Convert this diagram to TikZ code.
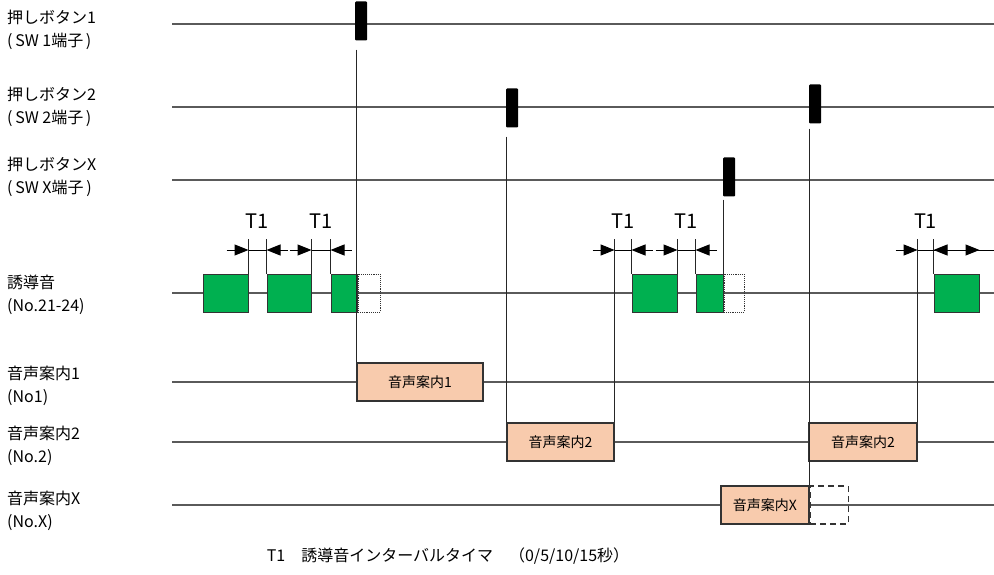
\documentclass[tikz,border=0pt]{standalone}
\usepackage{fontspec}
\setmainfont{Noto Sans CJK JP}
\usetikzlibrary{arrows.meta,calc}

\definecolor{tonegreen}{RGB}{0,176,80}
\definecolor{voicepeach}{RGB}{248,203,173}
\definecolor{linegray}{RGB}{90,90,90}

\begin{document}
\begin{tikzpicture}[x=1pt,y=-1pt]
\tikzstyle{lbl}=[anchor=west, align=left, inner sep=0pt, font=\fontsize{16}{23}\selectfont]
\tikzstyle{pulse}=[fill=black, inner sep=0pt, minimum width=12pt, minimum height=39pt, rounded corners=1pt]
\tikzstyle{tone}=[draw=black!80, fill=tonegreen, line width=1pt, inner sep=0pt, minimum height=38pt]
\tikzstyle{toneoff}=[draw=black!80, densely dotted, line width=0.9pt, inner sep=0pt, minimum height=38pt]
\tikzstyle{voice}=[draw=black!80, fill=voicepeach, line width=1.2pt, inner sep=0pt,
                        minimum height=38pt, font=\fontsize{14}{14}\selectfont]
\tikzstyle{voiceoff}=[draw=black!80, dash pattern=on 6pt off 4pt, line width=1.2pt, inner sep=0pt, minimum height=38pt]
\tikzstyle{tl}=[linegray, line width=1.4pt]
\tikzstyle{vl}=[black!85, line width=1.2pt]
\tikzstyle{dl}=[black, line width=1pt]
\tikzstyle{arw}=[black, line width=1pt, -{Triangle[length=14pt,width=11pt]}]
\tikzstyle{t1}=[inner sep=0pt, font=\fontsize{20}{20}\selectfont]
\useasboundingbox (0,0) rectangle (994,575);

% signal names
	\node[lbl] (sw1) at (7,30){押しボタン1\\(\,SW 1端子\,)};
	\node[lbl] (sw2) at (7,107){押しボタン2\\(\,SW 2端子\,)};
	\node[lbl] (swx) at (7,177){押しボタンX\\(\,SW X端子\,)};
	\node[lbl] (tone) at (7,295){誘導音\\(No.21-24)};
	\node[lbl] (vo1) at (7,386){音声案内1\\(No1)};
	\node[lbl] (vo2) at (7,446){音声案内2\\(No.2)};
	\node[lbl] (vox) at (7,511){音声案内X\\(No.X)};

% time lines
\coordinate (rt) at (994,0);
\coordinate (ktop) at (0,239);
\coordinate (ky) at (0,250);
\foreach \n/\y in {s1/24, s2/107, sx/180, tn/293, v1/382, v2/442, vx/505}{
	\coordinate (\n) at (172,\y);
	\draw[tl] (\n)--(\n -| rt);
}

% switch pulses
	\node[pulse] (p1) at (361,21){};
	\node[pulse] (p2) at (512,108){};
	\node[pulse] (px) at (729,177){};
	\node[pulse] (p2b) at (815,104){};

% guide tone
	\node[tone, minimum width=45pt] (g1) at (225.5,293){};
	\node[tone, minimum width=44pt] (g2) at (289,293){};
	\node[tone, minimum width=26pt] (g3) at (344,293){};
	\node[toneoff, minimum width=22pt, anchor=west] (d3) at (g3.east){};
	\node[tone, minimum width=45pt] (g4) at (654.5,293){};
	\node[tone, minimum width=27pt] (g5) at (709.5,293){};
	\node[toneoff, minimum width=20pt, anchor=west] (d5) at (g5.east){};
	\node[tone, minimum width=45pt] (g6) at (956.5,293){};

% voice guidance
	\node[voice, minimum width=126pt] (a1) at (420,382){音声案内1};
	\node[voice, minimum width=107pt] (b1) at (560.5,442){音声案内2};
	\node[voice, minimum width=108pt] (b2) at (863,442){音声案内2};
	\node[voice, minimum width=88pt] (x1) at (765,505){音声案内X};
	\node[voiceoff, minimum width=38pt, anchor=west] (x2) at (x1.east){};

% triggers
\draw[vl] ([yshift=-9pt]p1.south -| a1.north west)--(a1.north west);
\draw[vl] ([yshift=-9pt]p2.south -| b1.north west)--(b1.north west);
\draw[vl] ([yshift=-3pt]px.south -| g5.north east)--(g5.north east);
\draw[vl] ([yshift=-5pt]p2b.south -| x1.north east)--(x1.north east);
\draw[vl] (b1.north east |- ktop)--(b1.north east) (b2.north east |- ktop)--(b2.north east);
\foreach \k in {g1.north east, g2.north west, g2.north east, g3.north west,
                g4.north west, g4.north east, g5.north west, g6.north west}
	\draw[vl] (\k |- ktop)--(\k);

% T1 intervals
\foreach \a/\b/\n in {g1.north east/g2.north west/1, g2.north east/g3.north west/2,
                      b1.north east/g4.north west/3, g4.north east/g5.north west/4,
                      b2.north east/g6.north west/5}{
	\draw[dl] (\a |- ky)--(\b |- ky);
	\draw[arw] (\a |- ky) ++(-22,0)--(\a |- ky);
	\draw[arw] (\b |- ky) ++(21,0)--(\b |- ky);
	\node[t1] (T\n) at ($(\a |- ky)!0.5!(\b |- ky)+(0,-29)$){T1};
}
\draw[dl] (g6.north west |- ky)--(rt |- ky);
\draw[arw] (g6.north east |- ky) ++(-22,0)--(g6.north east |- ky);

	\node[inner sep=0pt, font=\fontsize{16}{16}\selectfont] (note) at (448,556)
		{T1\quad 誘導音インターバルタイマ\quad（0/5/10/15秒）};
\end{tikzpicture}
\end{document}
